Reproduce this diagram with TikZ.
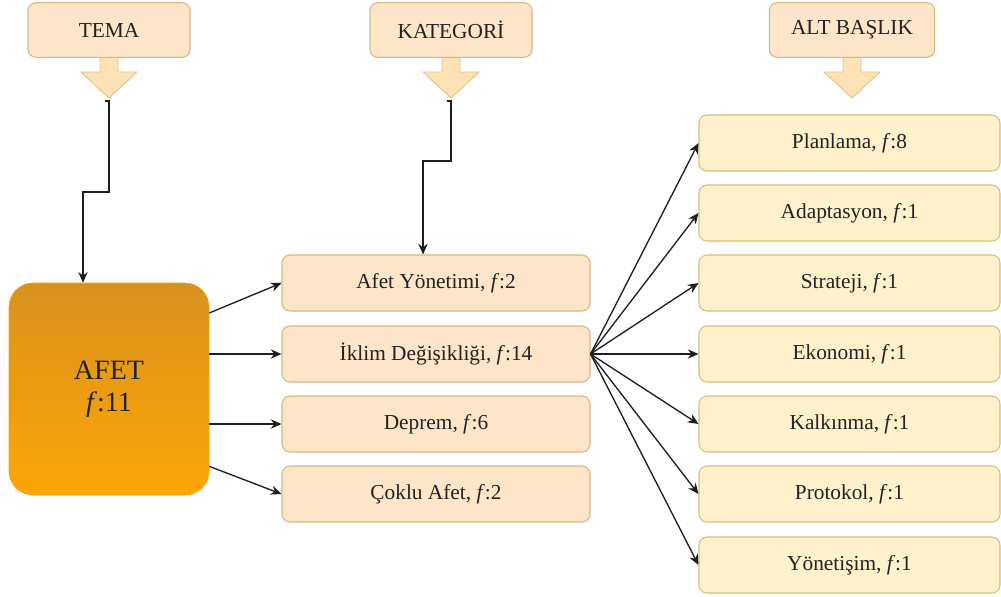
\documentclass[tikz,border=0pt]{standalone}
\usepackage{fontspec}
\setmainfont{Liberation Serif}
\usetikzlibrary{arrows.meta}

\definecolor{boxPeach}{HTML}{FCE5C8}
\definecolor{boxCream}{HTML}{FFF1CC}
\definecolor{edgeTan}{HTML}{D9B77E}
\definecolor{edgeGold}{HTML}{D8BE78}
\definecolor{afetTop}{HTML}{D8921F}
\definecolor{afetBottom}{HTML}{FDA503}
\definecolor{arrowFill}{HTML}{FDE2B5}
\definecolor{arrowEdge}{HTML}{E5C388}
\definecolor{lineDark}{HTML}{1E1E1E}
\definecolor{textDark}{HTML}{222222}

\tikzset{
  headbox/.style={draw=edgeTan, fill=boxPeach, rounded corners=6pt, line width=0.8pt,
    minimum width=121.5pt, minimum height=41pt, text=textDark,
    font=\fontsize{16}{18}\selectfont},
  katbox/.style={headbox, minimum width=231pt, minimum height=42pt},
  altbox/.style={katbox, fill=boxCream, draw=edgeGold, minimum width=225.75pt},
  conn/.style={draw=lineDark, line width=1pt, -{Stealth[length=8pt,width=7pt]}},
  blockarrow/.style={fill=arrowFill, draw=arrowEdge, line width=0.7pt}
}
\newcommand{\fval}[1]{\textit{f}:#1}

\begin{document}
\begin{tikzpicture}[x=0.75pt,y=-0.75pt]
	\useasboundingbox (0,0) rectangle (1001,597);
	
	% Block arrows under the headers: x-centre / name
	\foreach \c/\n in {109/tema, 451/kategori, 852/altbaslik} {
		\draw[blockarrow] (\c-9,55) -- (\c-9,72) -- (\c-28,72) -- (\c,98) -- (\c+28,72) -- (\c+9,72) -- (\c+9,55);
		\coordinate (\n-tip) at (\c,101);
	}
	
	% Headers
	\node[headbox] (tema) at (109,30) {TEMA};
	\node[headbox] (kategori) at (451,30) {KATEGORİ};
	\node[headbox, minimum width=124pt] (altbaslik) at (852,30) {ALT BAŞLIK};
	
	% Theme
	\node[draw=afetBottom!85!afetTop, top color=afetTop, bottom color=afetBottom,
	rounded corners=18pt, minimum width=150pt, minimum height=159pt, align=center,
	text=textDark, font=\fontsize{21}{24}\selectfont] (afet) at (109,389) {AFET\\\fval{11}};
	
	% Categories
	\node[katbox] (yon)    at (436,283) {Afet Yönetimi, \fval{2}};
	\node[katbox] (iklim)  at (436,354) {İklim Değişikliği, \fval{14}};
	\node[katbox] (deprem) at (436,424) {Deprem, \fval{6}};
	\node[katbox] (coklu)  at (436,494) {Çoklu Afet, \fval{2}};
	
	% Header connectors
	\draw[conn] ([xshift=-3pt]tema-tip) -- (tema-tip) -- ++(0,91) -| ([xshift=-19.5pt]afet.north);
	\draw[conn] ([xshift=-3pt]kategori-tip) -- (kategori-tip) -- ++(0,60) -| ([xshift=-9.75pt]yon.north);
	
	% Theme -> categories
	\draw[conn] ([yshift=57pt]afet.east) -- (yon.west);
	\draw[conn] (afet.east |- iklim.west) -- (iklim.west);
	\draw[conn] (afet.east |- deprem.west) -- (deprem.west);
	\draw[conn] ([yshift=-58pt]afet.east) -- (coklu.west);
	
	% Sub-headings: y / name / text / f
	\foreach \y/\n/\t/\v in {143/plan/Planlama/8, 213/adap/Adaptasyon/1, 283/strat/Strateji/1,
		354/eko/Ekonomi/1, 424/kalk/Kalkınma/1, 494/prot/Protokol/1, 565/yonet/Yönetişim/1} {
		\node[altbox] (\n) at (849.5,\y) {\t, \fval{\v}};
		\draw[conn] (iklim.east) -- (\n.west);
	}
	
\end{tikzpicture}
\end{document}
